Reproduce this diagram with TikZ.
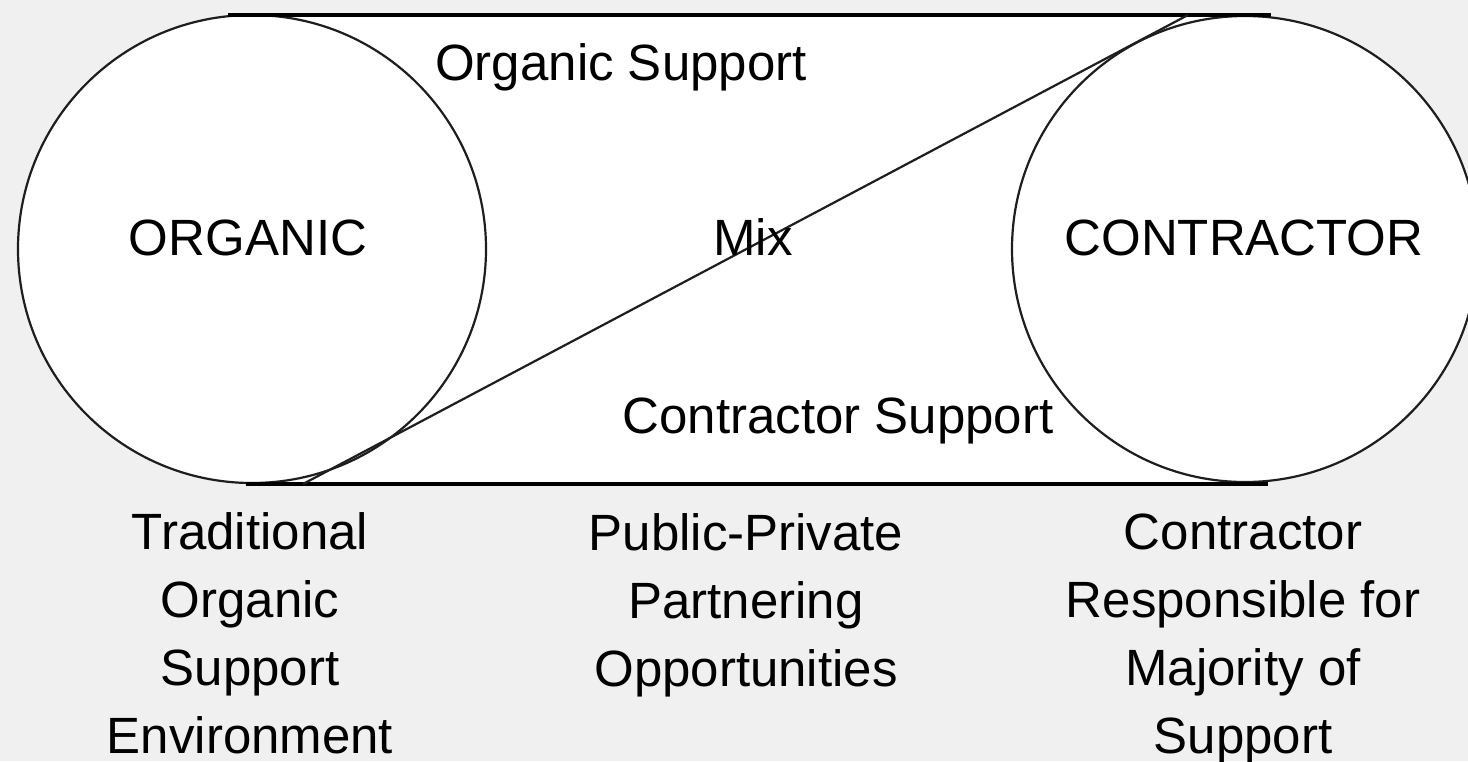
\documentclass[tikz,border=0pt]{standalone}
\usepackage{fontspec}
\setmainfont{Liberation Sans}
\definecolor{bgc}{RGB}{240,240,240}
\definecolor{ringc}{RGB}{30,30,30}
\tikzset{
  lbl/.style={font=\fontsize{51}{67.7}\selectfont, inner sep=0pt, anchor=base, text=black},
  ring/.style={circle, draw=ringc, line width=2.2pt, fill=white, inner sep=0pt, minimum size=#1},
  belt/.style={draw=black, line width=3.8pt},
  thinline/.style={draw=ringc, line width=2.2pt}
}
\begin{document}
\begin{tikzpicture}[x=1pt,y=-1pt]
\fill[bgc] (0,0) rectangle (1468,761);
\useasboundingbox (0,0) rectangle (1468,761);
% white band
\fill[white] (252,15) rectangle (1245,484);
\node[ring=468pt] (orgc) at (252,249) {};
\node[ring=466pt] (conc) at (1245,249) {};
% belt lines
\coordinate (t1) at (228,15);
\coordinate (t2) at (1271,15);
\coordinate (b1) at (246,484);
\coordinate (b2) at (1268,484);
\draw[belt] (t1) -- (t2);
\draw[belt] (b1) -- (b2);
% diagonal
\coordinate (d1) at (303,484);
\coordinate (d2) at (1188,15);
\draw[thinline] (d1) -- (d2);
% labels
\node[lbl] (os) at (621,80) {Organic Support};
\node[lbl] (org) at (248,255) {ORGANIC};
\node[lbl] (mix) at (753,255) {Mix};
\node[lbl] (con) at (1244,255) {CONTRACTOR};
\node[lbl] (cs) at (838,433) {Contractor Support};
\node[lbl, align=center] (tl) at (250,753) {Traditional\\Organic\\Support\\Environment};
\node[lbl, align=center] (tm) at (746,686) {Public-Private\\Partnering\\Opportunities};
\node[lbl, align=center] (tr) at (1243,753) {Contractor\\Responsible for\\Majority of\\Support};
\end{tikzpicture}
\end{document}
